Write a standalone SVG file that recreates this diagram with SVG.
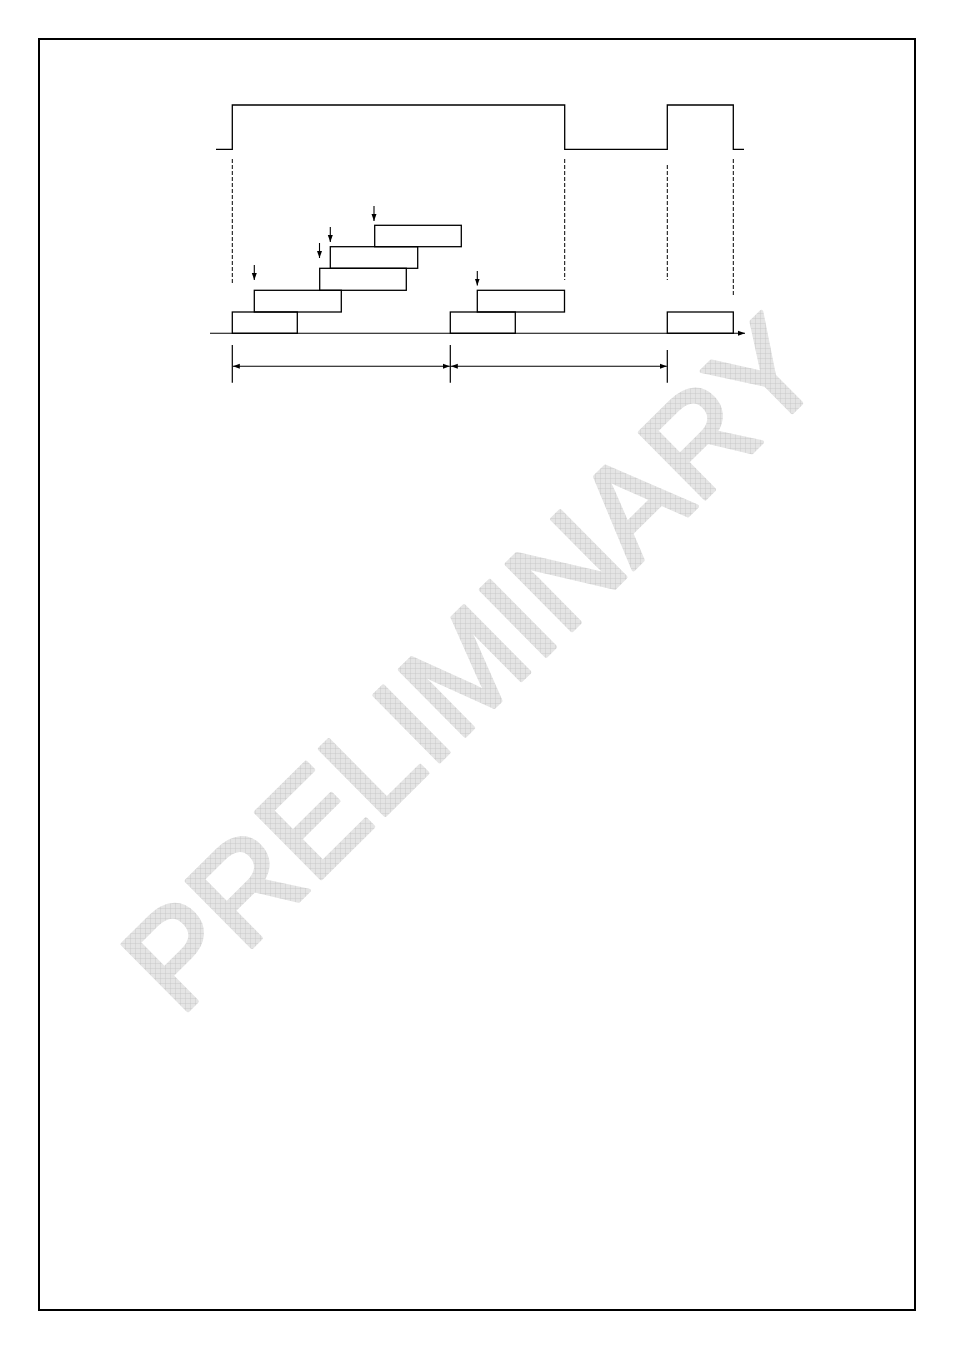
<svg xmlns="http://www.w3.org/2000/svg" width="954" height="1350" viewBox="0 0 954 1350">
<defs>
<style>
.sig{fill:none;stroke:#000;stroke-width:1.3}
.dash{fill:none;stroke:#000;stroke-width:1;stroke-dasharray:4,2}
.box{fill:none;stroke:#000;stroke-width:1.3}
.ln{fill:none;stroke:#000;stroke-width:1.2}
.arr{fill:none;stroke:#000;stroke-width:1.1;marker-end:url(#ah)}
.dim{fill:none;stroke:#000;stroke-width:1.1;marker-start:url(#ah2);marker-end:url(#ah)}
</style>
<marker id="ah" markerUnits="userSpaceOnUse" markerWidth="7" markerHeight="6" refX="7" refY="3" orient="auto">
<path d="M0,0.5 L7,3 L0,5.5 z" fill="#000"/>
</marker>
<marker id="ah2" markerUnits="userSpaceOnUse" markerWidth="7" markerHeight="6" refX="0" refY="3" orient="auto">
<path d="M7,0.5 L0,3 L7,5.5 z" fill="#000"/>
</marker>
<pattern id="grid" patternUnits="userSpaceOnUse" width="5" height="5" patternTransform="rotate(44.7)">
<rect width="5" height="5" fill="#e4e4e4"/>
<path d="M0,0.3 H5 M0.3,0 V5" stroke="#c2c2c2" stroke-width="0.5"/>
</pattern>
</defs>
<rect width="954" height="1350" fill="#fff"/>
<g id="watermark">
<text x="0" y="0" transform="translate(180,1018) rotate(-44.7)" font-family="Liberation Sans, Arial, sans-serif" font-size="135" fill="url(#grid)" stroke="url(#grid)" stroke-width="4" stroke-linejoin="round">PRELIMINARY</text>
</g>
<g id="frame">
<rect x="39" y="39" width="876" height="1271" fill="none" stroke="#000" stroke-width="2"/>
</g>
<g id="signal">
<path class="sig" d="M216,149.3 H232.3 V105 H564.7 V149.3 H667.3 V105 H733.3 V149.3 H744"/>
</g>
<g id="guides">
<line class="dash" x1="232.3" y1="159" x2="232.3" y2="285"/>
<line class="dash" x1="564.7" y1="159" x2="564.7" y2="280"/>
<line class="dash" x1="667.3" y1="165" x2="667.3" y2="280"/>
<line class="dash" x1="733.3" y1="159" x2="733.3" y2="296"/>
</g>
<g id="group1">
<rect class="box" x="232.3" y="312" width="65" height="21.3"/>
<rect class="box" x="254.3" y="290.3" width="87" height="21.7"/>
<rect class="box" x="319.7" y="268.3" width="86.6" height="22"/>
<rect class="box" x="330.3" y="246.7" width="87.4" height="21.6"/>
<rect class="box" x="374.7" y="225.3" width="86.6" height="21.4"/>
</g>
<g id="group2">
<rect class="box" x="450.3" y="312" width="65" height="21.3"/>
<rect class="box" x="477.3" y="290.3" width="87.2" height="21.7"/>
</g>
<g id="group3">
<rect class="box" x="667.3" y="312" width="66" height="21.3"/>
</g>
<g id="axis">
<line class="arr" x1="210" y1="333.3" x2="745" y2="333.3"/>
</g>
<g id="connectors">
<line class="arr" x1="254.3" y1="265" x2="254.3" y2="280"/>
<line class="arr" x1="319.5" y1="243" x2="319.5" y2="258"/>
<line class="arr" x1="330.3" y1="227" x2="330.3" y2="242"/>
<line class="arr" x1="374" y1="206" x2="374" y2="221"/>
<line class="arr" x1="477.3" y1="271" x2="477.3" y2="285.5"/>
<line class="ln" x1="232.3" y1="345" x2="232.3" y2="382.7"/>
<line class="ln" x1="450.3" y1="345" x2="450.3" y2="382.7"/>
<line class="ln" x1="667.3" y1="350" x2="667.3" y2="382.7"/>
<line class="dim" x1="232.8" y1="366.3" x2="449.8" y2="366.3"/>
<line class="dim" x1="450.8" y1="366.3" x2="666.8" y2="366.3"/>
</g>
</svg>
